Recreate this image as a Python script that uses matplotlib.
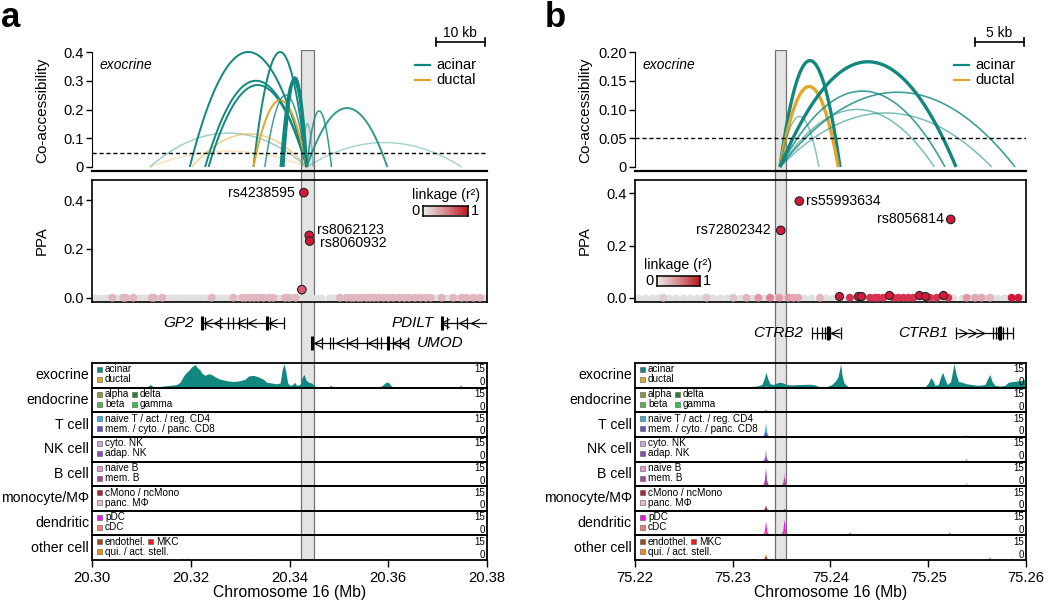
import numpy as np
import matplotlib as mpl
import matplotlib.pyplot as plt
from matplotlib.colors import LinearSegmentedColormap
from matplotlib.lines import Line2D
from matplotlib.patches import Rectangle
from matplotlib.path import Path

mpl.use('Agg')
plt.rcParams['font.family'] = ['Liberation Sans', 'DejaVu Sans']
plt.rcParams['font.size'] = 10.5

# ---------------- data: panel a (GP2 / UMOD locus) ----------------
a_start, a_end = 20.30, 20.38
a_ticks = [20.30, 20.32, 20.34, 20.36, 20.38]
a_band = (20.3423, 20.3450)

a_arc_start = [20.3117, 20.3117, 20.3198, 20.3202, 20.3229, 20.3236, 20.3327, 20.3327,
               20.3350, 20.3387, 20.3382, 20.3425, 20.3435, 20.3435, 20.3435]
a_arc_end = [20.3435, 20.3435, 20.3435, 20.3435, 20.3435, 20.3435, 20.3435, 20.3435,
             20.3435, 20.3435, 20.3435, 20.3448, 20.3485, 20.3598, 20.3749]
a_arc_score = [0.118, 0.055, 0.40, 0.115, 0.30, 0.285, 0.40, 0.232,
               0.25, 0.31, 0.30, 0.15, 0.195, 0.205, 0.085]
a_arc_cell = ['acinar', 'ductal', 'acinar', 'ductal', 'acinar', 'acinar', 'acinar', 'ductal',
              'acinar', 'acinar', 'acinar', 'acinar', 'acinar', 'acinar', 'acinar']

a_lead_id = ['rs4238595', 'rs8062123', 'rs8060932', '']
a_lead_pos = [20.3429, 20.3440, 20.3441, 20.3425]
a_lead_ppa = [0.43, 0.255, 0.232, 0.033]
a_lead_r2 = [1.0, 1.0, 1.0, 0.75]

a_pink_pos = [20.30412, 20.30635, 20.30682, 20.30837, 20.31208, 20.31256, 20.31425, 20.32424,
              20.32862, 20.33045, 20.33112, 20.33200, 20.33281, 20.33369, 20.33470, 20.33592,
              20.33672, 20.33909, 20.33997, 20.34125, 20.35023, 20.35158, 20.35246, 20.35306,
              20.35394, 20.35462, 20.35563, 20.35630, 20.35711, 20.35799, 20.35900, 20.36002,
              20.36103, 20.36224, 20.36326, 20.36427, 20.36542, 20.36657, 20.36764, 20.36859,
              20.37082, 20.37318, 20.37487, 20.37588, 20.37723, 20.37858]
a_gray_pos = [20.3005, 20.3015, 20.3025, 20.3033, 20.3042, 20.3050, 20.3056, 20.3065, 20.3075,
              20.3083, 20.3090, 20.3098, 20.3106, 20.3113, 20.3123, 20.3133, 20.3141, 20.3150,
              20.3158, 20.3166, 20.3174, 20.3182, 20.3190, 20.3198, 20.3206, 20.3214, 20.3222,
              20.3230, 20.3240, 20.3250, 20.3258, 20.3266, 20.3274, 20.3283, 20.3293, 20.3305,
              20.3316, 20.3328, 20.3340, 20.3352, 20.3363, 20.3375, 20.3382, 20.3395, 20.3406,
              20.3420, 20.3430, 20.3445, 20.3457, 20.3464, 20.3480, 20.3488, 20.3495, 20.3502,
              20.3510, 20.3520, 20.3531, 20.3542, 20.3550, 20.3560, 20.3572, 20.3585, 20.3595,
              20.3606, 20.3616, 20.3627, 20.3638, 20.3650, 20.3660, 20.3671, 20.3681, 20.3692,
              20.3700, 20.3715, 20.3723, 20.3731, 20.3739, 20.3752, 20.3764, 20.3778, 20.3786,
              20.3793]

a_gene_name = ['GP2', 'UMOD', 'PDILT']
a_gene_start = [20.32235, 20.34462, 20.37082]
a_gene_end = [20.33889, 20.36407, 20.38000]
a_gene_strand = ['-', '-', '-']
a_gene_exons = [[20.32289, 20.32592, 20.32761, 20.32862, 20.32984, 20.33132, 20.33605, 20.33889],
                [20.34651, 20.34820, 20.34888, 20.35158, 20.35360, 20.35563, 20.35765, 20.35853,
                 20.36103, 20.36238, 20.36407],
                [20.37183, 20.37386, 20.37588]]
a_gene_thick = [[20.32235, 20.33538], [20.34462, 20.36002], [20.37082]]
a_gene_arrows = [[20.32356, 20.32558, 20.33011, 20.33234, 20.33672],
                 [20.34584, 20.35023, 20.35259, 20.35664, 20.36171, 20.36339],
                 [20.37149, 20.37521, 20.37757]]

a_acinar_pos = [20.30000, 20.31107, 20.31141, 20.31188, 20.31229, 20.31310, 20.31445, 20.31580,
                20.31715, 20.31782, 20.31836, 20.31884, 20.31951, 20.32019, 20.32086, 20.32133,
                20.32187, 20.32221, 20.32289, 20.32356, 20.32424, 20.32491, 20.32592, 20.32727,
                20.32862, 20.32997, 20.33099, 20.33166, 20.33267, 20.33369, 20.33470, 20.33538,
                20.33639, 20.33740, 20.33808, 20.33855, 20.33889, 20.33922, 20.33963, 20.34010,
                20.34064, 20.34104, 20.34145, 20.34213, 20.34260, 20.34294, 20.34334, 20.34381,
                20.34449, 20.34516, 20.34584, 20.34786, 20.34840, 20.34874, 20.35833, 20.35900,
                20.35954, 20.36002, 20.36049, 20.36103, 20.37419, 20.37467, 20.37507, 20.37993,
                20.38000]
a_acinar_val = [0, 0, 1.2, 2.0, 0.8, 0.5, 1.0, 1.5, 2.0, 3.5, 6.5, 9.0, 11.0, 13.5, 15.0, 13.0,
                11.5, 9.5, 8.0, 9.0, 8.5, 7.0, 5.5, 4.5, 4.0, 4.5, 5.5, 7.5, 8.0, 7.0, 5.5, 3.5,
                3.0, 2.5, 3.0, 12.0, 15.5, 11.0, 3.0, 1.5, 2.0, 3.5, 1.5, 2.0, 7.0, 8.5, 5.0, 3.5,
                3.0, 1.0, 0.4, 0.3, 1.5, 0.3, 0.3, 2.0, 3.5, 3.5, 1.5, 0.3, 0.3, 1.5, 0.3, 0.2,
                0.2]

# (track, series, position, height)
a_peaks = [(0, 'ductal', 20.3185, 0.6), (0, 'ductal', 20.3205, 0.5), (0, 'ductal', 20.3389, 0.8),
           (0, 'ductal', 20.3595, 0.5), (2, 'naive T / act. / reg. CD4', 20.3195, 0.5),
           (5, 'cMono / ncMono', 20.3121, 0.6), (5, 'cMono / ncMono', 20.3603, 0.5),
           (6, 'pDC', 20.3121, 1.3), (7, 'endothel.', 20.3183, 0.9), (7, 'endothel.', 20.3193, 0.9),
           (7, 'MKC', 20.3121, 0.5), (7, 'MKC', 20.3320, 0.4), (7, 'MKC', 20.3600, 0.4)]

# ---------------- data: panel b (CTRB2 / CTRB1 locus) ----------------
b_start, b_end = 75.22, 75.26
b_ticks = [75.22, 75.23, 75.24, 75.25, 75.26]
b_band = (75.2343, 75.2354)

b_arc_start = [75.23483] * 8
b_arc_end = [75.24097, 75.24080, 75.23882, 75.25284, 75.25171, 75.25888, 75.25062, 75.25649]
b_arc_score = [0.185, 0.14, 0.088, 0.183, 0.132, 0.13, 0.10, 0.094]
b_arc_cell = ['acinar', 'ductal', 'acinar', 'acinar', 'acinar', 'acinar', 'acinar', 'acinar']

b_lead_id = ['rs72802342', 'rs55993634', 'rs8056814']
b_lead_pos = [75.23491, 75.23681, 75.25230]
b_lead_ppa = [0.258, 0.37, 0.30]
b_lead_r2 = [1.0, 1.0, 1.0]

b_ring_pos = [75.24090, 75.24278, 75.24309, 75.24598, 75.24908, 75.24966, 75.25147]
b_ring_ppa = [0.006, 0.007, 0.005, 0.009, 0.009, 0.007, 0.010]

b_pink_pos = [75.22290, 75.22733, 75.23006, 75.23142, 75.23262, 75.23381, 75.23476, 75.23569,
              75.23620, 75.23671, 75.23893, 75.24199, 75.24404, 75.24455, 75.24489, 75.24540,
              75.24643, 75.24694, 75.24745, 75.24796, 75.24847, 75.25018, 75.25086, 75.25205,
              75.25393, 75.25478, 75.25546, 75.25632, 75.25853, 75.25922]
b_pink_r2 = [0.15, 0.2, 0.2, 0.3, 0.5, 0.6, 0.5, 0.5, 0.4, 0.4, 0.3, 0.9, 0.9, 0.9, 0.9, 0.9,
             0.9, 0.9, 0.9, 0.9, 0.9, 0.9, 0.9, 0.9, 0.5, 0.4, 0.4, 0.3, 1.0, 1.0]
b_gray_pos = [75.2203, 75.2210, 75.2217, 75.2224, 75.2230, 75.2235, 75.2242, 75.2249, 75.2256,
              75.2263, 75.2270, 75.2275, 75.2280, 75.2287, 75.2294, 75.2300, 75.2307, 75.2313,
              75.2320, 75.2326, 75.2332, 75.2343, 75.2352, 75.2360, 75.2366, 75.2373, 75.2380,
              75.2388, 75.2395, 75.2403, 75.2410, 75.2418, 75.2426, 75.2433, 75.2440, 75.2448,
              75.2470, 75.2490, 75.2500, 75.2513, 75.2525, 75.2535, 75.2543, 75.2550, 75.2558,
              75.2565, 75.2570, 75.2577, 75.2582, 75.2590, 75.2597]

b_gene_name = ['CTRB2', 'CTRB1']
b_gene_start = [75.23807, 75.25284]
b_gene_end = [75.24107, 75.25864]
b_gene_strand = ['-', '+']
b_gene_exons = [[75.23807, 75.23859, 75.23910, 75.23944, 75.23961, 75.23978, 75.23995, 75.24107],
                [75.25284, 75.25666, 75.25693, 75.25717, 75.25741, 75.25768, 75.25802, 75.25864]]
b_gene_thick = [[75.23970], [75.25730]]
b_gene_arrows = [[75.24046], [75.25359, 75.25444, 75.25529]]

b_acinar_pos = [75.22000, 75.22529, 75.22870, 75.23142, 75.23245, 75.23296, 75.23323, 75.23340,
                75.23357, 75.23381, 75.23415, 75.23449, 75.23483, 75.23517, 75.23551, 75.23603,
                75.23688, 75.23790, 75.23841, 75.23876, 75.23961, 75.24012, 75.24046, 75.24073,
                75.24090, 75.24104, 75.24118, 75.24138, 75.24182, 75.24574, 75.24967, 75.25001,
                75.25025, 75.25045, 75.25069, 75.25103, 75.25127, 75.25147, 75.25168, 75.25195,
                75.25229, 75.25250, 75.25263, 75.25284, 75.25308, 75.25342, 75.25393, 75.25444,
                75.25512, 75.25580, 75.25608, 75.25632, 75.25652, 75.25683, 75.25734, 75.25785,
                75.25819, 75.25870, 75.25939, 75.25973, 75.26000]
b_acinar_val = [0.3, 0.3, 0.4, 0.6, 1.0, 2.0, 6.0, 10.0, 6.0, 2.5, 2.0, 3.0, 3.5, 3.0, 2.0, 1.8,
                2.0, 2.2, 1.8, 0.8, 0.6, 2.0, 4.0, 6.5, 11.0, 15.5, 8.0, 3.0, 0.5, 0.3, 0.5, 3.0,
                6.5, 5.0, 1.5, 2.0, 7.0, 10.0, 6.0, 2.0, 4.0, 11.0, 15.5, 9.0, 4.0, 3.5, 2.5, 2.0,
                1.5, 2.0, 6.0, 8.5, 4.0, 1.5, 1.0, 1.5, 3.5, 4.0, 4.5, 5.0, 5.5]

b_peaks = [(0, 'ductal', 75.2334, 1.2), (0, 'ductal', 75.2350, 0.6), (0, 'ductal', 75.2563, 0.6),
           (1, 'beta', 75.2334, 1.8), (1, 'gamma', 75.2409, 0.6), (1, 'beta', 75.2590, 0.6),
           (2, 'naive T / act. / reg. CD4', 75.2334, 9.0), (2, 'mem. / cyto. / panc. CD8', 75.2334, 4.0),
           (2, 'naive T / act. / reg. CD4', 75.2539, 1.2),
           (3, 'cyto. NK', 75.2334, 8.0), (3, 'adap. NK', 75.2334, 4.0), (3, 'cyto. NK', 75.2539, 2.0),
           (4, 'naive B', 75.2334, 13.0), (4, 'mem. B', 75.2334, 10.0), (4, 'naive B', 75.2353, 9.0),
           (4, 'mem. B', 75.2353, 6.0), (4, 'naive B', 75.2539, 2.0), (4, 'naive B', 75.2522, 0.6),
           (5, 'cMono / ncMono', 75.2334, 3.5), (5, 'cMono / ncMono', 75.2353, 1.2),
           (5, 'cMono / ncMono', 75.2585, 0.6),
           (6, 'pDC', 75.2334, 9.0), (6, 'pDC', 75.2353, 10.5), (6, 'pDC', 75.2420, 2.0),
           (6, 'pDC', 75.2522, 2.0), (6, 'cDC', 75.2334, 3.5), (6, 'cDC', 75.2353, 2.5),
           (7, 'qui. / act. stell.', 75.2321, 1.0), (7, 'qui. / act. stell.', 75.2334, 4.0),
           (7, 'endothel.', 75.2334, 2.5), (7, 'qui. / act. stell.', 75.2563, 2.0),
           (7, 'endothel.', 75.2585, 0.8)]

# ---------------- shared ----------------
track_names = ['exocrine', 'endocrine', 'T cell', 'NK cell', 'B cell', 'monocyte/MΦ', 'dendritic', 'other cell']
track_rows = [[['acinar'], ['ductal']],
              [['alpha', 'delta'], ['beta', 'gamma']],
              [['naive T / act. / reg. CD4'], ['mem. / cyto. / panc. CD8']],
              [['cyto. NK'], ['adap. NK']],
              [['naive B'], ['mem. B']],
              [['cMono / ncMono'], ['panc. MΦ']],
              [['pDC'], ['cDC']],
              [['endothel.', 'MKC'], ['qui. / act. stell.']]]
colors = {'acinar': '#10877f', 'ductal': '#e2a72a',
          'alpha': '#7f9c3b', 'delta': '#2e7d32', 'beta': '#58ad52', 'gamma': '#33c24a',
          'naive T / act. / reg. CD4': '#38aee2', 'mem. / cyto. / panc. CD8': '#5b56c6',
          'cyto. NK': '#c9aad8', 'adap. NK': '#8b4db3',
          'naive B': '#e29ad8', 'mem. B': '#a3489c',
          'cMono / ncMono': '#b2232b', 'panc. MΦ': '#f5b5c3',
          'pDC': '#f012f0', 'cDC': '#f27a6e',
          'endothel.': '#9a4a1e', 'MKC': '#ee1c1c', 'qui. / act. stell.': '#f28c1c'}
ld_cmap = LinearSegmentedColormap.from_list('ld', ['#e0e0e0', '#e39aa5', '#d3193a'])
bar_cmap = LinearSegmentedColormap.from_list('bar', ['#ececec', '#d88a8f', '#bf1620'])

# ---------------- layout helpers (pixels) ----------------
W, H = 1050, 602
fig = plt.figure(figsize=(W / 100, H / 100), dpi=100)


def px_ax(x0, y0, x1, y1, **kw):
    return fig.add_axes([x0 / W, 1 - y1 / H, (x1 - x0) / W, (y1 - y0) / H], **kw)


def ftext(x, y, s, **kw):
    return fig.text(x / W, 1 - y / H, s, **kw)


def fline(xs, ys, **kw):
    fig.add_artist(Line2D([v / W for v in xs], [1 - v / H for v in ys],
                          transform=fig.transFigure, **kw))


def fbox(x, y, w, h, **kw):
    fig.add_artist(Rectangle((x / W, 1 - (y + h) / H), w / W, h / H,
                             transform=fig.transFigure, **kw))


OPEN = [Path.MOVETO, Path.LINETO, Path.LINETO]
CHEV_L = Path([(1, 1), (-1, 0), (1, -1)], OPEN)
CHEV_R = Path([(-1, 1), (1, 0), (-1, -1)], OPEN)
TRACK_TOP, TRACK_H = 363, 24.625


def draw_panel(p):
    x0, x1 = p['x0'], p['x1']
    lo, hi = p['start'], p['end']

    # highlighted variant window running through all rows
    band_ax = px_ax(x0, 50, x1, 560, zorder=0)
    band_ax.set_xlim(lo, hi)
    band_ax.axis('off')
    band_ax.axvspan(*p['band'], facecolor='#e4e4e4', edgecolor='#707070', lw=0.9)

    ftext(p['letter_x'], 27, p['letter'], fontsize=25, fontweight='bold', va='baseline')

    # ---- co-accessibility arcs ----
    cmax = p['co_max']
    ax = px_ax(x0, 50, x1, 171, zorder=1)
    ax.set_facecolor('none')
    ax.set_xlim(lo, hi)
    ax.set_ylim(-4 / 115 * cmax, 117 / 115 * cmax)
    t = np.linspace(0, 1, 120)
    for s, e, h, c, al, lw in zip(p['arc_start'], p['arc_end'], p['arc_score'], p['arc_cell'],
                                  p['arc_alpha'], p['arc_lw']):
        ax.plot(s + (e - s) * t, 4 * h * t * (1 - t), color=colors[c], alpha=al, lw=lw,
                clip_on=False, solid_capstyle='butt')
    ax.axhline(0.05, color='k', lw=1, dashes=(3, 2))
    for side in ['top', 'right']:
        ax.spines[side].set_visible(False)
    ax.spines['left'].set_bounds(0, cmax)
    ax.spines['bottom'].set_linewidth(1.6)
    ax.set_xticks([])
    ax.set_yticks(p['co_ticks'])
    ax.set_yticklabels(p['co_labels'])
    ax.tick_params(axis='y', length=4, width=1, labelsize=10.5, pad=2)
    ftext(p['ylab_x'], 110, 'Co-accessibility', rotation=90, ha='center', va='center', fontsize=11)
    ftext(x0 + 8, 65, 'exocrine', style='italic', va='center', fontsize=10)
    for i, c in enumerate(['acinar', 'ductal']):
        fline([x1 - 72, x1 - 57], [65 + 15 * i] * 2, color=colors[c], lw=1.6)
        ftext(x1 - 51, 65 + 15 * i, c, va='center', fontsize=10.5)
    bar_len = p['scale_kb'] / ((hi - lo) * 1000) * (x1 - x0)
    bx1 = x1 - 2
    fline([bx1 - bar_len, bx1], [42, 42], color='k', lw=1.2)
    fline([bx1 - bar_len] * 2, [38, 46], color='k', lw=1.2)
    fline([bx1] * 2, [38, 46], color='k', lw=1.2)
    ftext(bx1 - bar_len / 2, 33, '%d kb' % p['scale_kb'], ha='center', va='center', fontsize=10)

    # ---- fine-mapping PPA ----
    sc = p['ppa_scale']
    ax = px_ax(x0, 180, x1, 302, zorder=1)
    ax.set_facecolor('none')
    ax.set_xlim(lo, hi)
    ax.set_ylim((297.7 - 302) / sc, (297.7 - 180) / sc)
    ax.scatter(p['gray_pos'], [0] * len(p['gray_pos']), s=32, color=ld_cmap(0.0), lw=0, zorder=2)
    ax.scatter(p['pink_pos'], [0] * len(p['pink_pos']), s=32, c=p['pink_r2'], cmap=ld_cmap,
               vmin=0, vmax=1, lw=0, zorder=3)
    if p['ring_pos']:
        ax.scatter(p['ring_pos'], p['ring_ppa'], s=34, color=ld_cmap(1.0), edgecolor='#222222',
                   lw=0.8, zorder=4)
    ax.scatter(p['lead_pos'], p['lead_ppa'], s=38, c=p['lead_r2'], cmap=ld_cmap, vmin=0, vmax=1,
               edgecolor='#222222', lw=0.8, zorder=5)
    for name, xv, yv, (dx, dy, ha) in zip(p['lead_id'], p['lead_pos'], p['lead_ppa'], p['lead_off']):
        if name:
            ax.annotate(name, (xv, yv), xytext=(dx * 0.72, dy * 0.72), textcoords='offset points',
                        ha=ha, va='center', fontsize=10.2)
    ax.set_xticks([])
    ax.set_yticks([0, 0.2, 0.4])
    ax.set_yticklabels(['0.0', '0.2', '0.4'])
    ax.tick_params(axis='y', length=4, width=1, labelsize=10.5, pad=2)
    for sp in ax.spines.values():
        sp.set_linewidth(1.2)
    ftext(p['ylab_x'], 241, 'PPA', rotation=90, ha='center', va='center', fontsize=10.8)

    # r2 colour key
    cx0, cy0, cx1, cy1 = p['key_box']
    kax = px_ax(cx0, cy0, cx1, cy1, zorder=3)
    kax.imshow(np.linspace(0, 1, 100)[None, :], cmap=bar_cmap, aspect='auto')
    kax.set_xticks([])
    kax.set_yticks([])
    for sp in kax.spines.values():
        sp.set_linewidth(1.1)
    ym = (cy0 + cy1) / 2
    ftext(cx0 - 3, ym, '0', ha='right', va='center', fontsize=10.5)
    ftext(cx1 + 3, ym, '1', ha='left', va='center', fontsize=10.5)
    lx, lha = p['key_label']
    ftext(lx, cy0 - 11, 'linkage (r²)', ha=lha, va='center', fontsize=10.2)

    # ---- genes ----
    gax = px_ax(x0, 302, x1, 363, zorder=1)
    gax.set_facecolor('none')
    gax.set_xlim(lo, hi)
    gax.set_ylim(0, 1)
    gax.axis('off')
    for i, name in enumerate(p['gene_name']):
        y = p['gene_row'][i]
        s, e = p['gene_start'][i], p['gene_end'][i]
        gax.plot([s, e], [y, y], color='k', lw=0.9)
        gax.vlines(p['gene_exons'][i], y - 0.1, y + 0.1, color='k', lw=0.9)
        gax.vlines(p['gene_thick'][i], y - 0.11, y + 0.11, color='k', lw=2.2)
        mk = CHEV_L if p['gene_strand'][i] == '-' else CHEV_R
        gax.plot(p['gene_arrows'][i], [y] * len(p['gene_arrows'][i]), ls='none', marker=mk,
                 ms=6, mfc='none', mec='k', mew=0.8)
        if p['gene_side'][i] == 'left':
            gax.annotate(name, (s, y), xytext=(-6, 0), textcoords='offset points', ha='right',
                         va='center', style='italic', fontsize=11)
        else:
            gax.annotate(name, (e, y), xytext=(6, 0), textcoords='offset points', ha='left',
                         va='center', style='italic', fontsize=11)

    # ---- aggregate accessibility tracks ----
    hw = p['peak_hw']
    for k, tname in enumerate(track_names):
        ty0 = TRACK_TOP + k * TRACK_H
        tax = px_ax(x0, ty0, x1, ty0 + TRACK_H, zorder=1)
        tax.set_facecolor('none')
        tax.set_xlim(lo, hi)
        tax.set_ylim(0, 16)
        if k == 0:
            tax.fill_between(p['acinar_pos'], 0, p['acinar_val'], color=colors['acinar'], lw=0)
        for (tk, ser, c, h) in p['peaks']:
            if tk == k:
                tax.fill([c - hw, c - hw * 0.4, c, c + hw * 0.4, c + hw],
                         [0, h * 0.3, h, h * 0.3, 0], color=colors[ser], lw=0)
        for sp in tax.spines.values():
            sp.set_linewidth(1.3)
        tax.set_yticks([])
        if k < len(track_names) - 1:
            tax.set_xticks([])
        else:
            tax.set_xticks(p['ticks'])
            tax.set_xticklabels(['%.2f' % v for v in p['ticks']])
            tax.tick_params(axis='x', length=5, width=1, labelsize=10.6, pad=3)
        ftext(p['track_x'], ty0 + TRACK_H / 2, tname, ha='right', va='center', fontsize=10.2)
        ftext(x1 - 2, ty0 + 6.5, '15', ha='right', va='center', fontsize=7)
        ftext(x1 - 2, ty0 + TRACK_H - 5.5, '0', ha='right', va='center', fontsize=7)
        for r, row in enumerate(track_rows[k]):
            ry = ty0 + 6.5 + 10 * r
            for j, ser in enumerate(row):
                sx = x0 + (5 if j == 0 else p['col2'][k])
                fbox(sx, ry - 2.5, 5, 5, facecolor=colors[ser], edgecolor='#555555', lw=0.4)
                ftext(sx + 8, ry, ser, ha='left', va='center', fontsize=7.2)
    ftext((x0 + x1) / 2, 592, 'Chromosome 16 (Mb)', ha='center', va='center', fontsize=11.3)


col2 = [None, 40, None, None, None, None, None, 56]

draw_panel(dict(
    letter='a', letter_x=1, x0=92, x1=487, start=a_start, end=a_end, ticks=a_ticks, band=a_band,
    co_max=0.4, co_ticks=[0, 0.1, 0.2, 0.3, 0.4], co_labels=['0', '0.1', '0.2', '0.3', '0.4'],
    arc_start=a_arc_start, arc_end=a_arc_end, arc_score=a_arc_score, arc_cell=a_arc_cell,
    arc_alpha=[0.4, 0.3, 1, 0.55, 1, 1, 1, 1, 0.8, 1, 1, 0.45, 0.85, 0.85, 0.35],
    arc_lw=[1.1, 1.1, 1.4, 1.1, 1.4, 1.4, 1.4, 1.4, 1.1, 2.2, 1.6, 1.1, 1.1, 1.4, 1.1],
    ylab_x=42, scale_kb=10, ppa_scale=244.25,
    gray_pos=a_gray_pos, pink_pos=a_pink_pos, pink_r2=[0.3] * len(a_pink_pos),
    ring_pos=[], ring_ppa=[],
    lead_id=a_lead_id, lead_pos=a_lead_pos, lead_ppa=a_lead_ppa, lead_r2=a_lead_r2,
    lead_off=[(-9, 0, 'right'), (8, 5, 'left'), (10, -2, 'left'), (0, 0, 'left')],
    key_box=(423, 206, 468, 215.5), key_label=(446, 'center'),
    gene_name=a_gene_name, gene_start=a_gene_start, gene_end=a_gene_end,
    gene_strand=a_gene_strand, gene_exons=a_gene_exons, gene_thick=a_gene_thick,
    gene_arrows=a_gene_arrows, gene_row=[0.656, 0.328, 0.656], gene_side=['left', 'right', 'left'],
    acinar_pos=a_acinar_pos, acinar_val=a_acinar_val, peaks=a_peaks, peak_hw=0.0005,
    track_x=89, col2=col2))

draw_panel(dict(
    letter='b', letter_x=545, x0=635, x1=1026, start=b_start, end=b_end, ticks=b_ticks, band=b_band,
    co_max=0.2, co_ticks=[0, 0.05, 0.10, 0.15, 0.20], co_labels=['0', '0.05', '0.10', '0.15', '0.20'],
    arc_start=b_arc_start, arc_end=b_arc_end, arc_score=b_arc_score, arc_cell=b_arc_cell,
    arc_alpha=[1, 1, 0.5, 1, 0.8, 0.8, 0.55, 0.55],
    arc_lw=[2.4, 2.4, 1.1, 2.4, 1.2, 1.2, 1.1, 1.1],
    ylab_x=585, scale_kb=5, ppa_scale=261,
    gray_pos=b_gray_pos, pink_pos=b_pink_pos, pink_r2=b_pink_r2,
    ring_pos=b_ring_pos, ring_ppa=b_ring_ppa,
    lead_id=b_lead_id, lead_pos=b_lead_pos, lead_ppa=b_lead_ppa, lead_r2=b_lead_r2,
    lead_off=[(-10, 0, 'right'), (7, 0, 'left'), (-7, 0, 'right')],
    key_box=(657, 276, 700, 285.5), key_label=(644, 'left'),
    gene_name=b_gene_name, gene_start=b_gene_start, gene_end=b_gene_end,
    gene_strand=b_gene_strand, gene_exons=b_gene_exons, gene_thick=b_gene_thick,
    gene_arrows=b_gene_arrows, gene_row=[0.49, 0.49], gene_side=['left', 'left'],
    acinar_pos=b_acinar_pos, acinar_val=b_acinar_val, peaks=b_peaks, peak_hw=0.0003,
    track_x=632, col2=col2))

fig.savefig('out.png', dpi=100)
